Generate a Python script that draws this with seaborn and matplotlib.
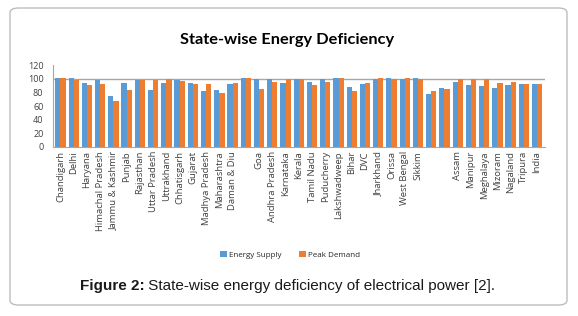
# =============================================================================
# State-wise Energy Deficiency — grouped bar chart (Energy Supply vs Peak Demand)
# Saves out.png (578 x 316 px)
# =============================================================================

import pandas as pd
import numpy as np
import matplotlib
matplotlib.use('Agg')
import matplotlib.pyplot as plt
from matplotlib.patches import FancyBboxPatch
import seaborn as sns

sns.set_theme(style="white")
plt.rcParams['font.family'] = ['Open Sans', 'DejaVu Sans']

# --- data (% ) ---
# blank labels are categories shown without a name in the original chart
states = ['Chandigarh', 'Delhi', 'Haryana', 'Himachal Pradesh', 'Jammu & Kashmir',
          'Punjab', 'Rajasthan', 'Uttar Pradesh', 'Uttrakhand', 'Chhatisgarh',
          'Gujarat', 'Madhya Pradesh', 'Maharashtra', 'Daman & Diu', ' ',
          'Goa', 'Andhra Pradesh', 'Karnataka', 'Kerala', 'Tamil Nadu',
          'Puducherry', 'Lakshwadweep', 'Bihar', 'DVC', 'Jharkhand',
          'Orissa', 'West Bengal', 'Sikkim', '  ', '   ',
          'Assam', 'Manipur', 'Meghalaya', 'Mizoram', 'Nagaland', 'Tripura', 'India']

energy_supply = [100.5, 100.5, 94, 98, 75,
                 94, 98, 84, 94, 98,
                 94, 82, 84, 92.5, 101,
                 99, 99, 93.5, 99, 95,
                 99, 101, 88, 92.5, 99,
                 101, 99, 101, 77, 86.5,
                 95, 91, 89.5, 86.5, 91, 92, 92]

peak_demand = [100.5, 98, 91, 93, 68,
               84, 98, 98, 100, 96,
               93, 92, 79, 94, 100.5,
               85, 95.5, 99, 99, 91,
               95.5, 101, 82, 94, 101,
               99, 101, 99, 82, 85,
               99, 99, 99, 94, 95.5, 92, 92]

series = ['Energy Supply', 'Peak Demand']
colors = ['#5B9BD5', '#ED7D31']

df = pd.DataFrame({
    'state': states * 2,
    'value': energy_supply + peak_demand,
    'series': [series[0]] * len(states) + [series[1]] * len(states),
})

# =============================================================================
# FIGURE
# =============================================================================
fig = plt.figure(figsize=(5.78, 3.16), dpi=100)
ax = fig.add_axes([0.092, 0.535, 0.851, 0.259])

sns.barplot(data=df, x='state', y='value', hue='series', order=states,
            hue_order=series, palette=colors, width=0.78, gap=0.0,
            saturation=1, errorbar=None, ax=ax, legend=True, linewidth=0)

ax.axhline(100, color='#A6A6A6', lw=1.0, zorder=0.5)
ax.set_ylim(0, 120)
ax.set_xlim(-0.55, len(states) - 0.4)
ax.set_yticks(np.arange(0, 121, 20))
ax.tick_params(axis='y', labelsize=6.5, colors='#404040', length=0, pad=7)
ax.tick_params(axis='x', labelsize=6.8, colors='#404040', length=0, pad=3)
ax.set_xticks(range(len(states)))
ax.set_xticklabels(states, rotation=90)
ax.set_xlabel('')
ax.set_ylabel('')

for side in ['top', 'right']:
    ax.spines[side].set_visible(False)
for side in ['left', 'bottom']:
    ax.spines[side].set_color('#A6A6A6')
    ax.spines[side].set_linewidth(0.8)

# legend below the chart
handles, labels = ax.get_legend_handles_labels()
ax.get_legend().remove()
fig.legend(handles, labels, loc='center', bbox_to_anchor=(0.502, 0.193),
           ncol=2, frameon=False, fontsize=5.8, handlelength=0.8,
           handleheight=0.8, columnspacing=2.2, handletextpad=0.3)

fig.text(0.497, 0.873, 'State-wise Energy Deficiency', ha='center', va='center',
         fontsize=11.8, fontweight='bold', color='#000000', family=['Lato', 'DejaVu Sans'])

# caption
t1 = fig.text(0.138, 0.082, 'Figure 2:', fontsize=11, fontweight='bold',
              family=['Liberation Sans', 'DejaVu Sans'], color='#1a1a1a', va='baseline')
ax.annotate(' State-wise energy deficiency of electrical power [2].',
            xy=(1, 0), xycoords=t1, va='bottom', fontsize=11,
            family=['Liberation Sans', 'DejaVu Sans'], color='#1a1a1a',
            annotation_clip=False)

# outer rounded frame
frame = FancyBboxPatch((10 / 578, 11 / 316), 557 / 578, 297 / 316,
                       boxstyle='round,pad=0,rounding_size=0.015',
                       transform=fig.transFigure, fill=False,
                       edgecolor='#BDBDBD', lw=1.0)
fig.add_artist(frame)

fig.savefig('out.png', dpi=100)
plt.close(fig)
